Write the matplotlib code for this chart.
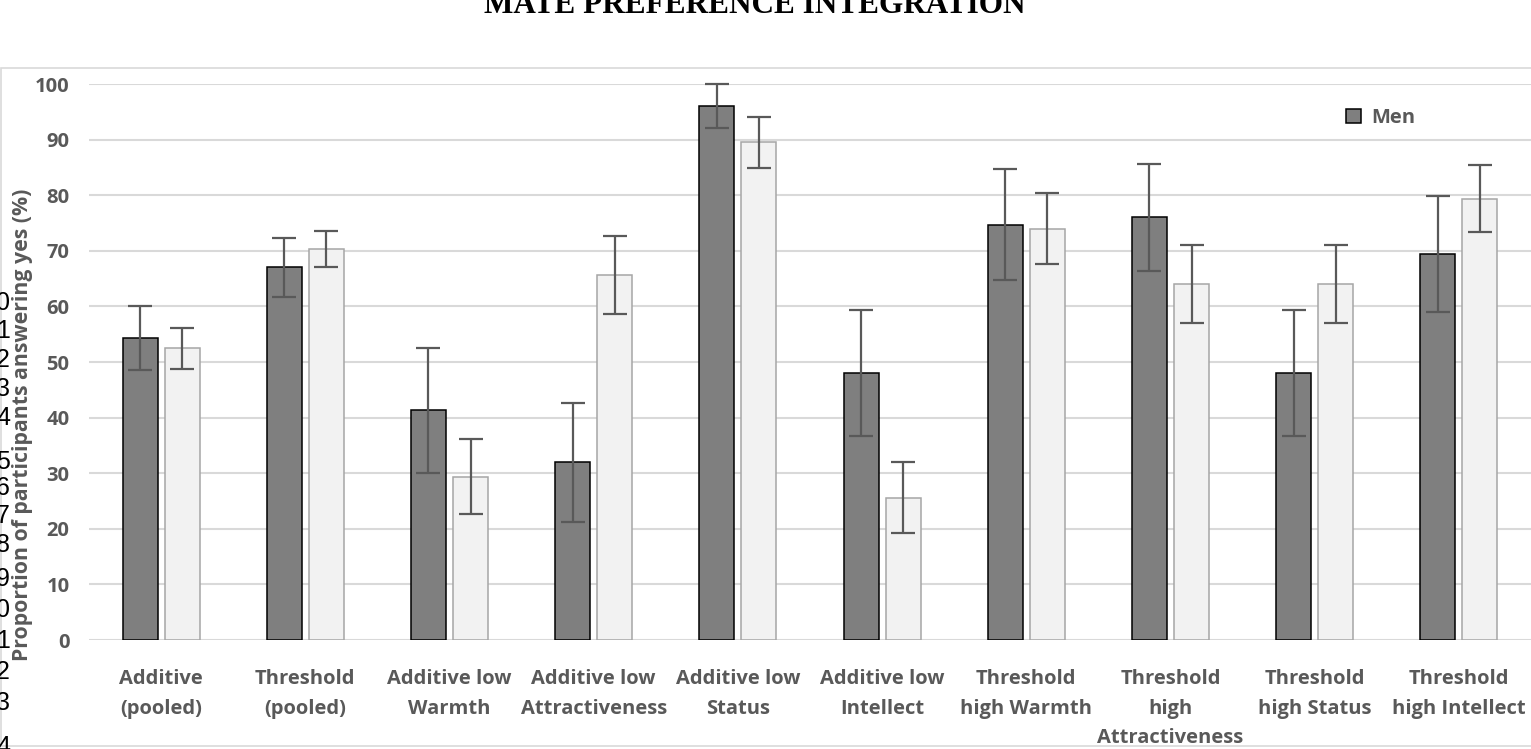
import matplotlib.pyplot as plt
import matplotlib.patches as mpatches
import numpy as np

# data
categories = ['Additive\n(pooled)', 'Threshold\n(pooled)', 'Additive low\nWarmth',
              'Additive low\nAttractiveness', 'Additive low\nStatus', 'Additive low\nIntellect',
              'Threshold\nhigh Warmth', 'Threshold\nhigh\nAttractiveness',
              'Threshold\nhigh Status', 'Threshold\nhigh Intellect']
men = [54.3, 67.0, 41.3, 32.0, 96.0, 48.0, 74.7, 76.0, 48.0, 69.4]
men_err = [5.7, 5.3, 11.2, 10.7, 4.0, 11.3, 10.0, 9.7, 11.3, 10.4]
women = [52.5, 70.3, 29.4, 65.6, 89.5, 25.6, 74.0, 64.0, 64.0, 79.4]
women_err = [3.7, 3.3, 6.7, 7.0, 4.6, 6.4, 6.4, 7.0, 7.0, 6.0]
yticks = [0, 10, 20, 30, 40, 50, 60, 70, 80, 90, 100]
# stray manuscript line numbers on the left edge
line_nums = ['0', '1', '2', '3', '4', '5', '6', '7', '8', '9', '0', '1', '2', '3', '4']
line_ys = [303, 331, 360, 389, 418, 462, 488, 516, 545, 579, 610, 641, 672, 703, 747]

W, H = 1531, 749
FONT = 'Open Sans'
GRAY = '#595959'

fig = plt.figure(figsize=(W / 100, H / 100), dpi=100)
ax = fig.add_axes([89 / W, 1 - 640 / H, 1 - 89 / W, (640 - 84) / H])

x = np.arange(len(categories))
bw = 0.243
off = 0.146
err_kw = dict(ecolor=GRAY, elinewidth=1.6, capsize=8.5, capthick=1.6, clip_on=False)

men_bars = ax.bar(x - off, men, bw, yerr=men_err, color='#7f7f7f', edgecolor='black',
                  linewidth=1.1, error_kw=err_kw, zorder=3, label='Men')
ax.bar(x + off, women, bw, yerr=women_err, color='#f2f2f2', edgecolor='#a6a6a6',
       linewidth=1.1, error_kw=err_kw, zorder=3)

ax.set_xlim(-0.5, len(categories) - 0.5)
ax.set_ylim(0, 100)
ax.set_yticks(yticks)
ax.yaxis.grid(True, color='#d9d9d9', linewidth=1.5, zorder=0)
ax.set_axisbelow(True)
for s in ax.spines.values():
    s.set_visible(False)

ax.set_xticks(x)
ax.set_xticklabels(categories, fontsize=14.5, fontweight='bold', color=GRAY,
                   family=FONT, linespacing=1.63)
ax.tick_params(axis='x', length=0, pad=21)
ax.tick_params(axis='y', length=0, pad=14, labelsize=14.5, labelcolor=GRAY)
for t in ax.get_yticklabels():
    t.set_fontweight('bold')
    t.set_family(FONT)

ax.legend(handles=[men_bars], labels=['Men'], loc='center left',
          bbox_to_anchor=(1346 / W, 1 - 118 / H), bbox_transform=fig.transFigure,
          frameon=False, borderpad=0, borderaxespad=0, handlelength=0.75,
          handleheight=0.75, handletextpad=0.5,
          prop={'family': FONT, 'weight': 'bold', 'size': 14.5}, labelcolor=GRAY)

fig.text(23 / W, 1 - 425 / H, 'Proportion of participants answering yes (%)',
         rotation=90, ha='center', va='center', fontsize=15.3, fontweight='bold',
         color=GRAY, family=FONT)

# title, cut off at the top of the picture
fig.text(755 / W, 1 - 13 / H, 'MATE PREFERENCE INTEGRATION', ha='center',
         va='baseline', fontsize=22.5, fontweight='bold', family='Liberation Serif')

for lab, yy in zip(line_nums, line_ys):
    fig.text(10 / W, 1 - yy / H, lab, ha='right', va='center', fontsize=18,
             family='Liberation Sans')

fig.patches.append(mpatches.Rectangle((0.5 / W, 3 / H), 1.2, 1 - 71 / H,
                                      transform=fig.transFigure, fill=False,
                                      edgecolor='#d9d9d9', linewidth=1.2))

fig.savefig('out.png', dpi=100)
